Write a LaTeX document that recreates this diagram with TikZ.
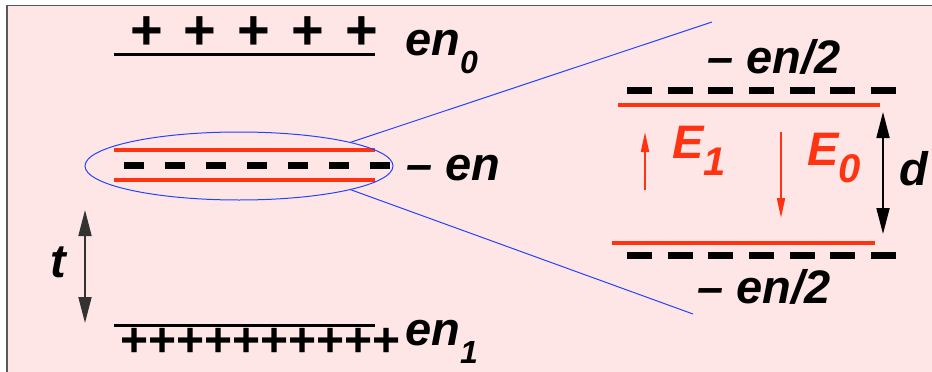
\documentclass[tikz,border=0pt]{standalone}
\usepackage{fontspec}
\setmainfont{Liberation Sans}
\usepackage{xcolor}
\usetikzlibrary{shapes.geometric,arrows.meta}
\definecolor{slabred}{RGB}{255,51,17}
\definecolor{bgpink}{RGB}{255,230,230}
\definecolor{loupeblue}{RGB}{34,68,255}
\newcommand{\sublo}[1]{\raisebox{-18pt}{\fontsize{32}{32}\selectfont #1}}
\newcommand{\subE}[1]{\raisebox{-17pt}{\fontsize{40}{40}\selectfont #1}}

\begin{document}
\begin{tikzpicture}[x=1pt, y=-1pt,
      lbl/.style={anchor=base west, inner sep=0, font=\fontsize{47}{50}\selectfont\bfseries\itshape},
      charge/.style={inner sep=0, font=\fontsize{#1}{50}\selectfont\bfseries},
      plate/.style={line width=3pt},
      sheet/.style={slabred, line width=3.5pt},
      negdash/.style={line width=7pt},
      field/.style={slabred, line width=2pt, -{Triangle[length=20pt, width=8pt]}},
      gap/.style={line width=1.8pt, {Triangle[length=26pt, width=13pt]}-{Triangle[length=26pt, width=13pt]}}]
    \useasboundingbox (0,0) rectangle (932,372);
    \fill[bgpink] (8,6) rectangle (932,372);
    \draw[black!65, line width=1.5pt] (7,372) -- (7,5.5) -- (932,5.5);

    \coordinate (p0a) at (114,54);  \coordinate (p0b) at (375,54);
    \coordinate (p1a) at (114,325); \coordinate (p1b) at (375,325);
    \coordinate (sUa) at (114,150); \coordinate (sUb) at (375,150);
    \coordinate (sLa) at (114,180); \coordinate (sLb) at (375,180);
    \coordinate (mida) at (124,165); \coordinate (midb) at (391,165);
    \coordinate (zUa) at (618,105); \coordinate (zUb) at (880,105);
    \coordinate (zLa) at (612,243); \coordinate (zLb) at (875,243);
    \coordinate (dUa) at (627,90);  \coordinate (dUb) at (896,90);
    \coordinate (dLa) at (627,255); \coordinate (dLb) at (896,255);
    \coordinate (viewtop) at (712,22);
    \coordinate (viewbot) at (693,314);
    \coordinate (ttop) at (85,210); \coordinate (tbot) at (85,323);
    \coordinate (dtop) at (883,112); \coordinate (dbot) at (883,234);
    \coordinate (e1a) at (645,190); \coordinate (e1b) at (645,132);
    \coordinate (e0a) at (781,132); \coordinate (e0b) at (781,218);

    \draw[plate] (p0a) -- (p0b);
    \draw[plate] (p1a) -- (p1b);
    \foreach \x in {147,200,254,308,362}
      \node[charge=56] at (\x,33) {+};
    \foreach \i in {0,...,9}
      \node[charge=48] at (135+28*\i,342) {+};

    \draw[sheet] (sUa) -- (sUb);
    \draw[sheet] (sLa) -- (sLb);
    \draw[negdash, dash pattern=on 20pt off 21pt] (mida) -- (midb);

    \node[draw=loupeblue, line width=1pt, ellipse, minimum width=308pt, minimum height=68pt, inner sep=0] (loupe) at (239,166) {};
    \draw[loupeblue, line width=1pt] (loupe.12.5) -- (viewtop);
    \draw[loupeblue, line width=1pt] (loupe.-12.5) -- (viewbot);

    \draw[sheet] (zUa) -- (zUb);
    \draw[sheet] (zLa) -- (zLb);
    \draw[negdash, dash pattern=on 25pt off 15.67pt] (dUa) -- (dUb);
    \draw[negdash, dash pattern=on 25pt off 15.67pt] (dLa) -- (dLb);

    \draw[field] (e1a) -- (e1b);
    \draw[field] (e0a) -- (e0b);
    \draw[gap] (dtop) -- (dbot);
    \draw[gap, black!80] (ttop) -- (tbot);

    \node[lbl] (q0) at (405,55) {en\sublo{0}};
    \node[lbl] (qm) at (406,180) {– en};
    \node[lbl] (q1) at (405,345) {en\sublo{1}};
    \node[lbl] (qu) at (707,73) {– en/2};
    \node[lbl] (ql) at (697,303) {– en/2};
    \node[lbl, slabred] (E1) at (672,158) {E\subE{1}};
    \node[lbl, slabred] (E0) at (807,165) {E\subE{0}};
    \node[lbl] (dl) at (899,185) {d};
    \node[lbl] (tl) at (50,277) {t};
  \end{tikzpicture}
\end{document}
